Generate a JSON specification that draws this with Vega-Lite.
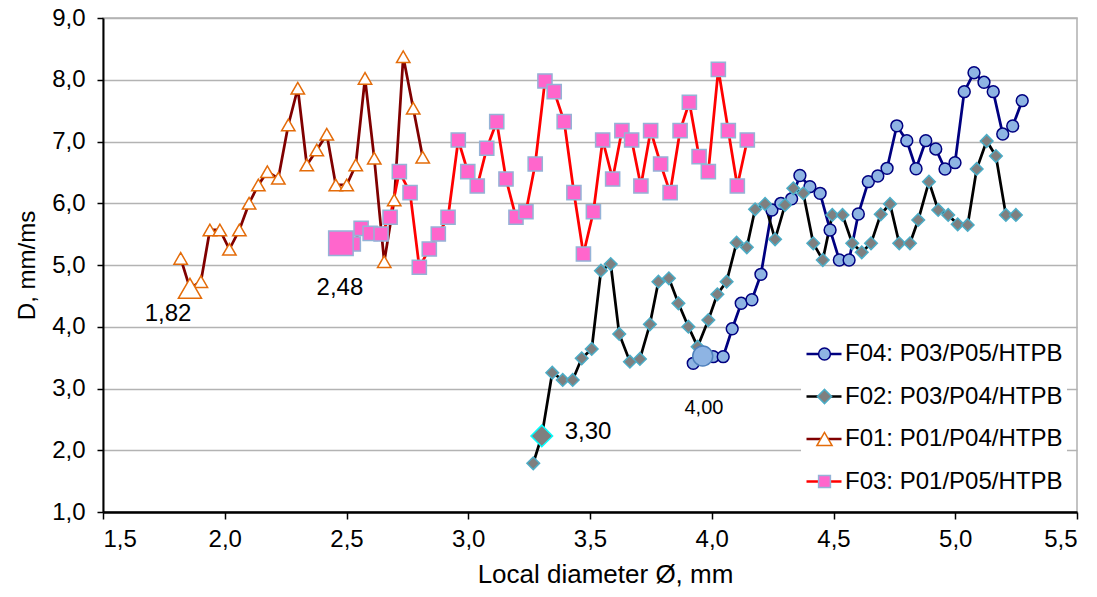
{
  "$schema": "https://vega.github.io/schema/vega-lite/v6.json",
  "width": 974,
  "height": 494,
  "autosize": "none",
  "padding": {"left": 103, "top": 18, "right": 20, "bottom": 85},
  "config": {
    "font": "Liberation Sans",
    "view": {"stroke": "#b0b0b0", "strokeWidth": 1.5},
    "axis": {"labelColor": "black", "titleColor": "black", "labelFont": "Liberation Sans", "titleFont": "Liberation Sans"}
  },
  "datasets": {
    "pts": [
      {"s": "F04: P03/P05/HTPB", "x": 3.924, "y": 3.408},
      {"s": "F04: P03/P05/HTPB", "x": 3.963, "y": 3.526},
      {"s": "F04: P03/P05/HTPB", "x": 4.006, "y": 3.515},
      {"s": "F04: P03/P05/HTPB", "x": 4.047, "y": 3.515},
      {"s": "F04: P03/P05/HTPB", "x": 4.084, "y": 3.967},
      {"s": "F04: P03/P05/HTPB", "x": 4.121, "y": 4.380},
      {"s": "F04: P03/P05/HTPB", "x": 4.165, "y": 4.437},
      {"s": "F04: P03/P05/HTPB", "x": 4.202, "y": 4.849},
      {"s": "F04: P03/P05/HTPB", "x": 4.247, "y": 5.891},
      {"s": "F04: P03/P05/HTPB", "x": 4.284, "y": 5.999},
      {"s": "F04: P03/P05/HTPB", "x": 4.328, "y": 6.072},
      {"s": "F04: P03/P05/HTPB", "x": 4.362, "y": 6.449},
      {"s": "F04: P03/P05/HTPB", "x": 4.403, "y": 6.268},
      {"s": "F04: P03/P05/HTPB", "x": 4.445, "y": 6.161},
      {"s": "F04: P03/P05/HTPB", "x": 4.486, "y": 5.567},
      {"s": "F04: P03/P05/HTPB", "x": 4.524, "y": 5.081},
      {"s": "F04: P03/P05/HTPB", "x": 4.564, "y": 5.081},
      {"s": "F04: P03/P05/HTPB", "x": 4.602, "y": 5.826},
      {"s": "F04: P03/P05/HTPB", "x": 4.643, "y": 6.349},
      {"s": "F04: P03/P05/HTPB", "x": 4.682, "y": 6.441},
      {"s": "F04: P03/P05/HTPB", "x": 4.720, "y": 6.566},
      {"s": "F04: P03/P05/HTPB", "x": 4.760, "y": 7.254},
      {"s": "F04: P03/P05/HTPB", "x": 4.801, "y": 7.013},
      {"s": "F04: P03/P05/HTPB", "x": 4.839, "y": 6.559},
      {"s": "F04: P03/P05/HTPB", "x": 4.879, "y": 7.013},
      {"s": "F04: P03/P05/HTPB", "x": 4.920, "y": 6.879},
      {"s": "F04: P03/P05/HTPB", "x": 4.958, "y": 6.555},
      {"s": "F04: P03/P05/HTPB", "x": 4.999, "y": 6.657},
      {"s": "F04: P03/P05/HTPB", "x": 5.037, "y": 7.807},
      {"s": "F04: P03/P05/HTPB", "x": 5.077, "y": 8.114},
      {"s": "F04: P03/P05/HTPB", "x": 5.118, "y": 7.959},
      {"s": "F04: P03/P05/HTPB", "x": 5.156, "y": 7.807},
      {"s": "F04: P03/P05/HTPB", "x": 5.195, "y": 7.121},
      {"s": "F04: P03/P05/HTPB", "x": 5.236, "y": 7.251},
      {"s": "F04: P03/P05/HTPB", "x": 5.275, "y": 7.661},
      {"s": "F02: P03/P04/HTPB", "x": 3.267, "y": 1.789},
      {"s": "F02: P03/P04/HTPB", "x": 3.302, "y": 2.231},
      {"s": "F02: P03/P04/HTPB", "x": 3.345, "y": 3.256},
      {"s": "F02: P03/P04/HTPB", "x": 3.388, "y": 3.138},
      {"s": "F02: P03/P04/HTPB", "x": 3.429, "y": 3.138},
      {"s": "F02: P03/P04/HTPB", "x": 3.466, "y": 3.489},
      {"s": "F02: P03/P04/HTPB", "x": 3.507, "y": 3.640},
      {"s": "F02: P03/P04/HTPB", "x": 3.545, "y": 4.908},
      {"s": "F02: P03/P04/HTPB", "x": 3.585, "y": 5.016},
      {"s": "F02: P03/P04/HTPB", "x": 3.620, "y": 3.883},
      {"s": "F02: P03/P04/HTPB", "x": 3.664, "y": 3.434},
      {"s": "F02: P03/P04/HTPB", "x": 3.705, "y": 3.478},
      {"s": "F02: P03/P04/HTPB", "x": 3.746, "y": 4.040},
      {"s": "F02: P03/P04/HTPB", "x": 3.781, "y": 4.730},
      {"s": "F02: P03/P04/HTPB", "x": 3.824, "y": 4.785},
      {"s": "F02: P03/P04/HTPB", "x": 3.863, "y": 4.380},
      {"s": "F02: P03/P04/HTPB", "x": 3.904, "y": 4.001},
      {"s": "F02: P03/P04/HTPB", "x": 3.942, "y": 3.677},
      {"s": "F02: P03/P04/HTPB", "x": 3.986, "y": 4.109},
      {"s": "F02: P03/P04/HTPB", "x": 4.023, "y": 4.526},
      {"s": "F02: P03/P04/HTPB", "x": 4.061, "y": 4.730},
      {"s": "F02: P03/P04/HTPB", "x": 4.102, "y": 5.361},
      {"s": "F02: P03/P04/HTPB", "x": 4.144, "y": 5.287},
      {"s": "F02: P03/P04/HTPB", "x": 4.178, "y": 5.902},
      {"s": "F02: P03/P04/HTPB", "x": 4.219, "y": 5.988},
      {"s": "F02: P03/P04/HTPB", "x": 4.260, "y": 5.416},
      {"s": "F02: P03/P04/HTPB", "x": 4.301, "y": 5.972},
      {"s": "F02: P03/P04/HTPB", "x": 4.335, "y": 6.242},
      {"s": "F02: P03/P04/HTPB", "x": 4.376, "y": 6.161},
      {"s": "F02: P03/P04/HTPB", "x": 4.417, "y": 5.351},
      {"s": "F02: P03/P04/HTPB", "x": 4.456, "y": 5.081},
      {"s": "F02: P03/P04/HTPB", "x": 4.495, "y": 5.810},
      {"s": "F02: P03/P04/HTPB", "x": 4.537, "y": 5.810},
      {"s": "F02: P03/P04/HTPB", "x": 4.577, "y": 5.351},
      {"s": "F02: P03/P04/HTPB", "x": 4.616, "y": 5.206},
      {"s": "F02: P03/P04/HTPB", "x": 4.654, "y": 5.351},
      {"s": "F02: P03/P04/HTPB", "x": 4.694, "y": 5.821},
      {"s": "F02: P03/P04/HTPB", "x": 4.732, "y": 5.988},
      {"s": "F02: P03/P04/HTPB", "x": 4.770, "y": 5.351},
      {"s": "F02: P03/P04/HTPB", "x": 4.814, "y": 5.351},
      {"s": "F02: P03/P04/HTPB", "x": 4.848, "y": 5.729},
      {"s": "F02: P03/P04/HTPB", "x": 4.892, "y": 6.349},
      {"s": "F02: P03/P04/HTPB", "x": 4.930, "y": 5.891},
      {"s": "F02: P03/P04/HTPB", "x": 4.971, "y": 5.810},
      {"s": "F02: P03/P04/HTPB", "x": 5.010, "y": 5.659},
      {"s": "F02: P03/P04/HTPB", "x": 5.051, "y": 5.648},
      {"s": "F02: P03/P04/HTPB", "x": 5.088, "y": 6.555},
      {"s": "F02: P03/P04/HTPB", "x": 5.129, "y": 7.008},
      {"s": "F02: P03/P04/HTPB", "x": 5.167, "y": 6.765},
      {"s": "F02: P03/P04/HTPB", "x": 5.208, "y": 5.810},
      {"s": "F02: P03/P04/HTPB", "x": 5.249, "y": 5.810},
      {"s": "F01: P01/P04/HTPB", "x": 1.819, "y": 5.108},
      {"s": "F01: P01/P04/HTPB", "x": 1.857, "y": 4.623},
      {"s": "F01: P01/P04/HTPB", "x": 1.902, "y": 4.730},
      {"s": "F01: P01/P04/HTPB", "x": 1.939, "y": 5.567},
      {"s": "F01: P01/P04/HTPB", "x": 1.980, "y": 5.567},
      {"s": "F01: P01/P04/HTPB", "x": 2.019, "y": 5.254},
      {"s": "F01: P01/P04/HTPB", "x": 2.060, "y": 5.567},
      {"s": "F01: P01/P04/HTPB", "x": 2.100, "y": 6.000},
      {"s": "F01: P01/P04/HTPB", "x": 2.138, "y": 6.296},
      {"s": "F01: P01/P04/HTPB", "x": 2.175, "y": 6.511},
      {"s": "F01: P01/P04/HTPB", "x": 2.220, "y": 6.404},
      {"s": "F01: P01/P04/HTPB", "x": 2.261, "y": 7.267},
      {"s": "F01: P01/P04/HTPB", "x": 2.300, "y": 7.862},
      {"s": "F01: P01/P04/HTPB", "x": 2.337, "y": 6.619},
      {"s": "F01: P01/P04/HTPB", "x": 2.378, "y": 6.862},
      {"s": "F01: P01/P04/HTPB", "x": 2.419, "y": 7.117},
      {"s": "F01: P01/P04/HTPB", "x": 2.456, "y": 6.296},
      {"s": "F01: P01/P04/HTPB", "x": 2.501, "y": 6.296},
      {"s": "F01: P01/P04/HTPB", "x": 2.538, "y": 6.619},
      {"s": "F01: P01/P04/HTPB", "x": 2.576, "y": 8.023},
      {"s": "F01: P01/P04/HTPB", "x": 2.614, "y": 6.728},
      {"s": "F01: P01/P04/HTPB", "x": 2.655, "y": 5.053},
      {"s": "F01: P01/P04/HTPB", "x": 2.696, "y": 6.053},
      {"s": "F01: P01/P04/HTPB", "x": 2.733, "y": 8.373},
      {"s": "F01: P01/P04/HTPB", "x": 2.774, "y": 7.538},
      {"s": "F01: P01/P04/HTPB", "x": 2.813, "y": 6.744},
      {"s": "F03: P01/P05/HTPB", "x": 2.477, "y": 5.351},
      {"s": "F03: P01/P05/HTPB", "x": 2.528, "y": 5.340},
      {"s": "F03: P01/P05/HTPB", "x": 2.560, "y": 5.594},
      {"s": "F03: P01/P05/HTPB", "x": 2.597, "y": 5.513},
      {"s": "F03: P01/P05/HTPB", "x": 2.642, "y": 5.502},
      {"s": "F03: P01/P05/HTPB", "x": 2.679, "y": 5.773},
      {"s": "F03: P01/P05/HTPB", "x": 2.717, "y": 6.511},
      {"s": "F03: P01/P05/HTPB", "x": 2.761, "y": 6.171},
      {"s": "F03: P01/P05/HTPB", "x": 2.799, "y": 4.963},
      {"s": "F03: P01/P05/HTPB", "x": 2.840, "y": 5.259},
      {"s": "F03: P01/P05/HTPB", "x": 2.877, "y": 5.502},
      {"s": "F03: P01/P05/HTPB", "x": 2.917, "y": 5.773},
      {"s": "F03: P01/P05/HTPB", "x": 2.959, "y": 7.024},
      {"s": "F03: P01/P05/HTPB", "x": 2.998, "y": 6.511},
      {"s": "F03: P01/P05/HTPB", "x": 3.037, "y": 6.279},
      {"s": "F03: P01/P05/HTPB", "x": 3.076, "y": 6.890},
      {"s": "F03: P01/P05/HTPB", "x": 3.117, "y": 7.321},
      {"s": "F03: P01/P05/HTPB", "x": 3.155, "y": 6.393},
      {"s": "F03: P01/P05/HTPB", "x": 3.196, "y": 5.773},
      {"s": "F03: P01/P05/HTPB", "x": 3.237, "y": 5.863},
      {"s": "F03: P01/P05/HTPB", "x": 3.275, "y": 6.636},
      {"s": "F03: P01/P05/HTPB", "x": 3.315, "y": 7.980},
      {"s": "F03: P01/P05/HTPB", "x": 3.353, "y": 7.807},
      {"s": "F03: P01/P05/HTPB", "x": 3.394, "y": 7.321},
      {"s": "F03: P01/P05/HTPB", "x": 3.434, "y": 6.171},
      {"s": "F03: P01/P05/HTPB", "x": 3.473, "y": 5.178},
      {"s": "F03: P01/P05/HTPB", "x": 3.514, "y": 5.863},
      {"s": "F03: P01/P05/HTPB", "x": 3.552, "y": 7.024},
      {"s": "F03: P01/P05/HTPB", "x": 3.593, "y": 6.393},
      {"s": "F03: P01/P05/HTPB", "x": 3.631, "y": 7.175},
      {"s": "F03: P01/P05/HTPB", "x": 3.671, "y": 7.024},
      {"s": "F03: P01/P05/HTPB", "x": 3.709, "y": 6.279},
      {"s": "F03: P01/P05/HTPB", "x": 3.749, "y": 7.175},
      {"s": "F03: P01/P05/HTPB", "x": 3.790, "y": 6.636},
      {"s": "F03: P01/P05/HTPB", "x": 3.829, "y": 6.171},
      {"s": "F03: P01/P05/HTPB", "x": 3.870, "y": 7.175},
      {"s": "F03: P01/P05/HTPB", "x": 3.908, "y": 7.635},
      {"s": "F03: P01/P05/HTPB", "x": 3.948, "y": 6.754},
      {"s": "F03: P01/P05/HTPB", "x": 3.986, "y": 6.511},
      {"s": "F03: P01/P05/HTPB", "x": 4.027, "y": 8.169},
      {"s": "F03: P01/P05/HTPB", "x": 4.068, "y": 7.175},
      {"s": "F03: P01/P05/HTPB", "x": 4.105, "y": 6.279},
      {"s": "F03: P01/P05/HTPB", "x": 4.146, "y": 7.024}
    ],
    "hl": [
      {"s": "F04: P03/P05/HTPB", "x": 3.963, "y": 3.526},
      {"s": "F02: P03/P04/HTPB", "x": 3.302, "y": 2.231},
      {"s": "F01: P01/P04/HTPB", "x": 1.857, "y": 4.623},
      {"s": "F03: P01/P05/HTPB", "x": 2.477, "y": 5.351}
    ],
    "lbl": [
      {"t": "1,82", "x": 1.767, "y": 4.21},
      {"t": "2,48", "x": 2.473, "y": 4.63},
      {"t": "3,30", "x": 3.492, "y": 2.29},
      {"t": "4,00", "x": 3.968, "y": 2.68}
    ]
  },
  "resolve": {"scale": {"stroke": "independent", "size": "independent"}, "legend": {"stroke": "independent", "size": "independent"}},
  "layer": [
    {
      "data": {"name": "pts"},
      "mark": {"type": "line", "strokeWidth": 2.75},
      "encoding": {
        "x": {
          "field": "x", "type": "quantitative",
          "scale": {"domain": [1.5, 5.5], "nice": false, "zero": false},
          "axis": {
            "values": [1.5, 2, 2.5, 3, 3.5, 4, 4.5, 5, 5.5],
            "labelExpr": "replace(format(datum.value, '.1f'), '.', ',')",
            "grid": false, "domainColor": "black", "domainWidth": 2.5,
            "tickColor": "black", "tickSize": 7, "tickWidth": 1.5,
            "labelFontSize": 24, "labelPadding": 8,
            "title": "Local diameter  Ø, mm", "titleFontSize": 26, "titleFontWeight": "normal",
            "titlePadding": 10, "titleX": 502
          }
        },
        "y": {
          "field": "y", "type": "quantitative",
          "scale": {"domain": [1, 9], "nice": false, "zero": false},
          "axis": {
            "values": [1, 2, 3, 4, 5, 6, 7, 8, 9],
            "labelExpr": "replace(format(datum.value, '.1f'), '.', ',')",
            "grid": true, "gridColor": "#b3b3b3", "gridWidth": 1.5,
            "domainColor": "black", "domainWidth": 2,
            "tickColor": "black", "tickSize": 6, "tickWidth": 1.5,
            "labelFontSize": 24, "labelPadding": 12,
            "title": "D, mm/ms", "titleFontSize": 24, "titleFontWeight": "normal", "titlePadding": 12
          }
        },
        "stroke": {
          "field": "s", "type": "nominal",
          "scale": {"domain": ["F04: P03/P05/HTPB", "F02: P03/P04/HTPB", "F01: P01/P04/HTPB", "F03: P01/P05/HTPB"], "range": ["#000080", "#000000", "#800000", "#ff0000"]},
          "legend": {
            "orient": "none", "legendX": 698, "legendY": 317, "title": null,
            "symbolType": "stroke", "symbolSize": 1225, "symbolStrokeWidth": 2.5,
            "labelFontSize": 24, "labelFont": "Liberation Sans", "labelColor": "black", "labelLimit": 400,
            "labelOffset": 2, "rowPadding": 12.5, "clipHeight": 30, "padding": 4, "fillColor": "white", "zindex": 0
          }
        }
      }
    },
    {
      "data": {"name": "pts"},
      "mark": {"type": "point", "filled": true, "opacity": 1, "strokeWidth": 1.5},
      "encoding": {
        "x": {"field": "x", "type": "quantitative"},
        "y": {"field": "y", "type": "quantitative"},
        "shape": {
          "field": "s", "type": "nominal",
          "scale": {"domain": ["F04: P03/P05/HTPB", "F02: P03/P04/HTPB", "F01: P01/P04/HTPB", "F03: P01/P05/HTPB"], "range": ["circle", "diamond", "triangle-up", "square"]},
          "legend": {
            "orient": "none", "legendX": 705.5, "legendY": 317, "title": null,
            "labelExpr": "''", "labelFontSize": 24, "labelOffset": 2, "rowPadding": 12.5, "clipHeight": 30, "padding": 4, "zindex": 1,
            "symbolSize": 200, "symbolStrokeWidth": 1.5, "symbolOpacity": 1,
            "encode": {"symbols": {"update": {
              "stroke": {"signal": "datum.value === 'F04: P03/P05/HTPB' ? '#000080' : datum.value === 'F02: P03/P04/HTPB' ? '#4bacc6' : datum.value === 'F01: P01/P04/HTPB' ? '#e46c0a' : '#95b3d7'"},
              "size": {"signal": "datum.value === 'F04: P03/P05/HTPB' ? 140 : datum.value === 'F02: P03/P04/HTPB' ? 200 : datum.value === 'F01: P01/P04/HTPB' ? 230 : 140"},
              "strokeWidth": {"value": 1.5}
            }}}
          }
        },
        "fill": {
          "field": "s", "type": "nominal",
          "scale": {"domain": ["F04: P03/P05/HTPB", "F02: P03/P04/HTPB", "F01: P01/P04/HTPB", "F03: P01/P05/HTPB"], "range": ["#8eb4e3", "#7f7f7f", "#ffffff", "#ff66cc"]},
          "legend": {
            "orient": "none", "legendX": 705.5, "legendY": 317, "title": null,
            "labelExpr": "''", "labelFontSize": 24, "labelOffset": 2, "rowPadding": 12.5, "clipHeight": 30, "padding": 4, "zindex": 1,
            "symbolSize": 200, "symbolStrokeWidth": 1.5, "symbolOpacity": 1,
            "encode": {"symbols": {"update": {
              "stroke": {"signal": "datum.value === 'F04: P03/P05/HTPB' ? '#000080' : datum.value === 'F02: P03/P04/HTPB' ? '#4bacc6' : datum.value === 'F01: P01/P04/HTPB' ? '#e46c0a' : '#95b3d7'"},
              "size": {"signal": "datum.value === 'F04: P03/P05/HTPB' ? 140 : datum.value === 'F02: P03/P04/HTPB' ? 200 : datum.value === 'F01: P01/P04/HTPB' ? 230 : 140"},
              "strokeWidth": {"value": 1.5}
            }}}
          }
        },
        "stroke": {
          "field": "s", "type": "nominal", "legend": null,
          "scale": {"domain": ["F04: P03/P05/HTPB", "F02: P03/P04/HTPB", "F01: P01/P04/HTPB", "F03: P01/P05/HTPB"], "range": ["#000080", "#4bacc6", "#e46c0a", "#95b3d7"]}
        },
        "size": {
          "field": "s", "type": "nominal", "legend": null,
          "scale": {"domain": ["F04: P03/P05/HTPB", "F02: P03/P04/HTPB", "F01: P01/P04/HTPB", "F03: P01/P05/HTPB"], "range": [140, 200, 230, 140]}
        }
      }
    },
    {
      "data": {"name": "hl"},
      "mark": {"type": "point", "filled": true, "opacity": 1, "strokeWidth": 1.5},
      "encoding": {
        "x": {"field": "x", "type": "quantitative"},
        "y": {"field": "y", "type": "quantitative"},
        "shape": {"field": "s", "type": "nominal", "legend": null},
        "fill": {"field": "s", "type": "nominal", "legend": null},
        "stroke": {
          "field": "s", "type": "nominal", "legend": null,
          "scale": {"domain": ["F04: P03/P05/HTPB", "F02: P03/P04/HTPB", "F01: P01/P04/HTPB", "F03: P01/P05/HTPB"], "range": ["#4f81bd", "#00ffff", "#e46c0a", "#95b3d7"]}
        },
        "size": {
          "field": "s", "type": "nominal", "legend": null,
          "scale": {"domain": ["F04: P03/P05/HTPB", "F02: P03/P04/HTPB", "F01: P01/P04/HTPB", "F03: P01/P05/HTPB"], "range": [400, 600, 420, 400]}
        }
      }
    },
    {
      "data": {"name": "lbl"},
      "transform": [{"filter": "datum.t != '4,00'"}],
      "mark": {"type": "text", "fontSize": 24, "font": "Liberation Sans", "color": "black", "align": "center", "baseline": "middle"},
      "encoding": {
        "x": {"field": "x", "type": "quantitative"},
        "y": {"field": "y", "type": "quantitative"},
        "text": {"field": "t"}
      }
    },
    {
      "data": {"name": "lbl"},
      "transform": [{"filter": "datum.t == '4,00'"}],
      "mark": {"type": "text", "fontSize": 20, "font": "Liberation Sans", "color": "black", "align": "center", "baseline": "middle"},
      "encoding": {
        "x": {"field": "x", "type": "quantitative"},
        "y": {"field": "y", "type": "quantitative"},
        "text": {"field": "t"}
      }
    }
  ]
}
